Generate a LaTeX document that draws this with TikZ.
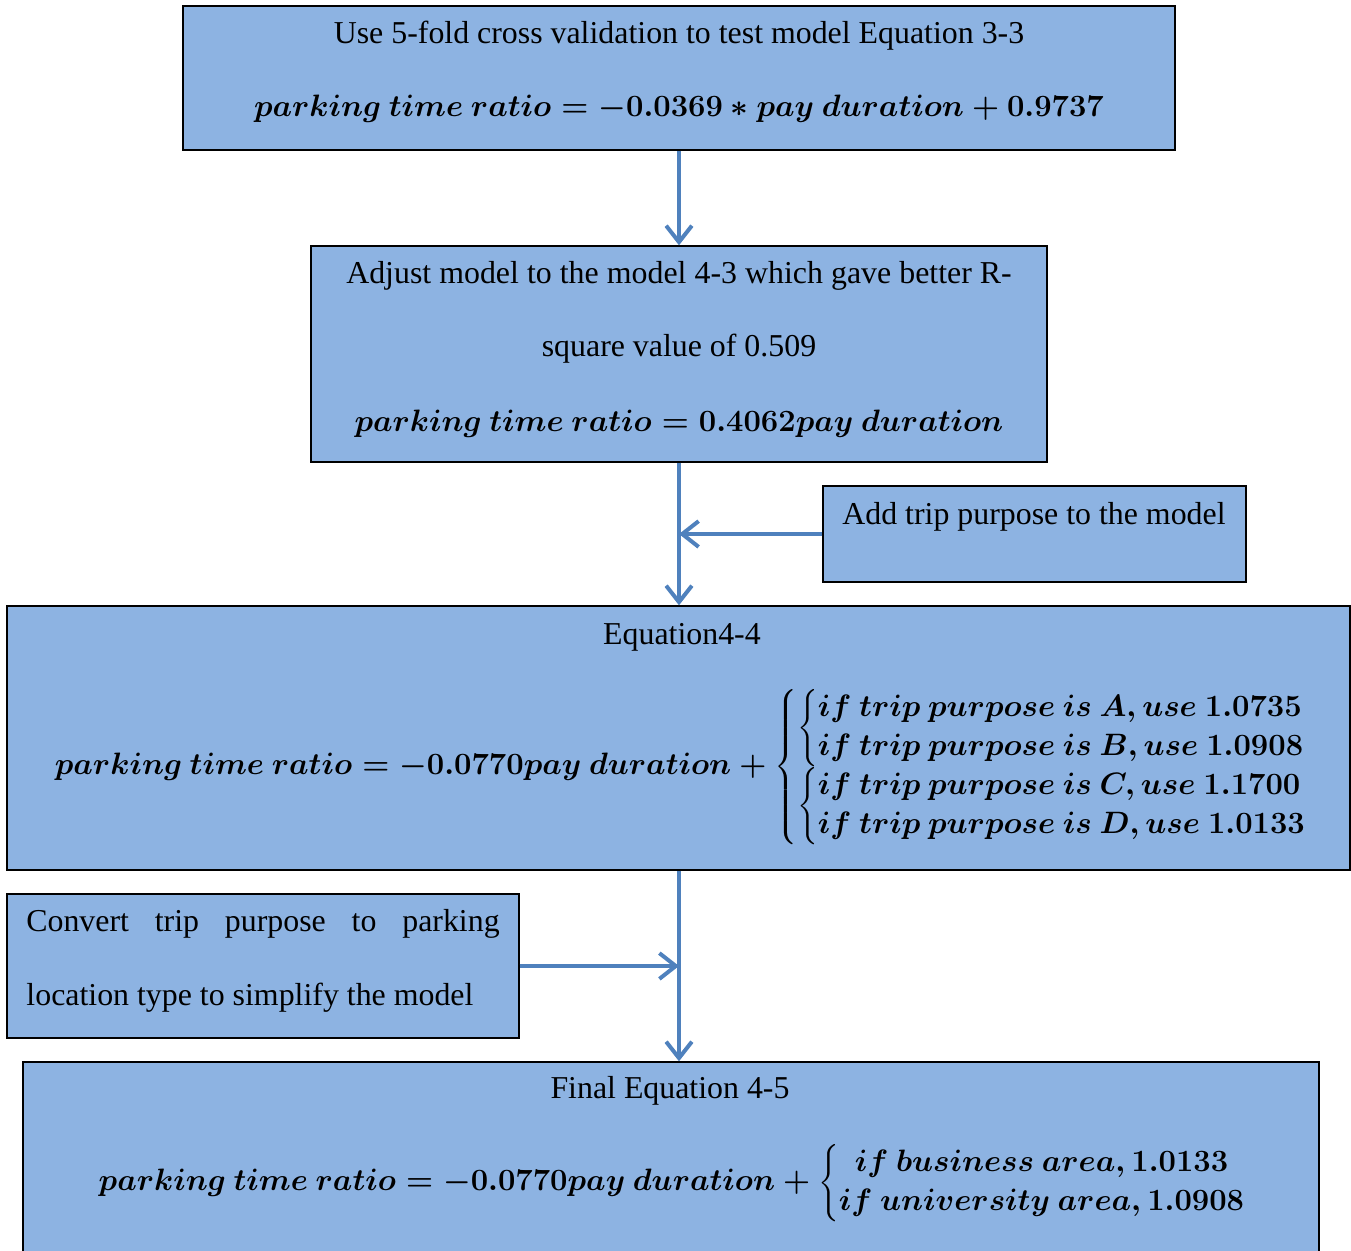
\documentclass[tikz,border=0pt]{standalone}
\usepackage[no-math]{fontspec}
\setmainfont{Liberation Serif}
\usetikzlibrary{positioning,fit,arrows.meta}
\definecolor{boxblue}{HTML}{8DB3E2}
\definecolor{flowblue}{HTML}{4F81BD}
\tikzset{
  box/.style={draw=black,line width=0.6pt,fill=boxblue,inner sep=0pt},
  txt/.style={inner sep=0pt,font=\fontsize{13.6}{15}\selectfont},
  eqn/.style={inner sep=0pt,scale=1.1,font=\fontsize{12}{13}\selectfont\boldmath},
  flow/.style={draw=flowblue,line width=1.7pt,-{Straight Barb[length=7pt,width=11pt]}}
}
\newcommand{\ptratio}{parking\ time\ ratio}
\newcommand{\paydur}{pay\ duration}
\renewcommand{\arraystretch}{1.18}

\begin{document}
\begin{tikzpicture}[x=0.015cm,y=-0.015cm]
\useasboundingbox (0,0) rectangle (1351,1251);
% boxes
\node[box,fit={(183,6) (1175,150)}] (b1) {};
\node[box,fit={(311,246) (1047,462)}] (b2) {};
\node[box,fit={(823,486) (1246,582)}] (b3) {};
\node[box,fit={(7,606) (1350,870)}] (b4) {};
\node[box,fit={(7,894) (519,1038)}] (b5) {};
\node[box,fit={(23,1062) (1319,1275)}] (b6) {};

% texts
\node[txt] (t1) at (679,36) {Use 5-fold cross validation to test model Equation 3-3};
\node[eqn] (e1) at (679,109) {$\ptratio = -0.0369 * \paydur + 0.9737$};

\node[txt] (t2a) at (679,276) {\makebox[284pt][s]{Adjust model to the model 4-3 which gave better R-}};
\node[txt] (t2b) at (679,349) {square value of 0.509};
\node[eqn] (e2) at (679,424) {$\ptratio = 0.4062 \paydur$};

\node[txt] (t3) at (1034,517) {Add trip purpose to the model};

\node[txt] (t4) at (682,637) {Equation4-4};
\node[eqn] (e4) at (683,767) {$\ptratio = -0.0770 \paydur + \left\{\begin{array}{@{}l@{}}
  \left\{\begin{array}{@{}l@{}} if\ trip\ purpose\ is\ A, use\ 1.0735\\ if\ trip\ purpose\ is\ B, use\ 1.0908\end{array}\right.\\[-0.4pt]
  \left\{\begin{array}{@{}l@{}} if\ trip\ purpose\ is\ C, use\ 1.1700\\ if\ trip\ purpose\ is\ D, use\ 1.0133\end{array}\right.
  \end{array}\right.$};

\node[txt] (t5a) at (263,924) {\makebox[202pt][s]{Convert trip purpose to parking}};
\node[txt,anchor=west] (t5b) at (26,998) {location type to simplify the model};

\node[txt] (t6) at (670,1091) {Final Equation 4-5};
\node[eqn] (e6) at (673,1183) {$\ptratio = -0.0770 \paydur + \left\{\begin{array}{@{}c@{}}
  if\ business\ area, 1.0133\\ if\ university\ area, 1.0908\end{array}\right.$};

% arrows
\draw[flow] (b1) -- (b2);
\draw[flow] (b2.south) -- (b4.north -| b2.south);
\draw[flow] (b3.west) -- (b3.west -| b2.south);
\draw[flow] (b4.south -| b2.south) -- (b6.north -| b2.south);
\draw[flow] (b5.east) -- (b5.east -| b2.south);
\end{tikzpicture}
\end{document}
